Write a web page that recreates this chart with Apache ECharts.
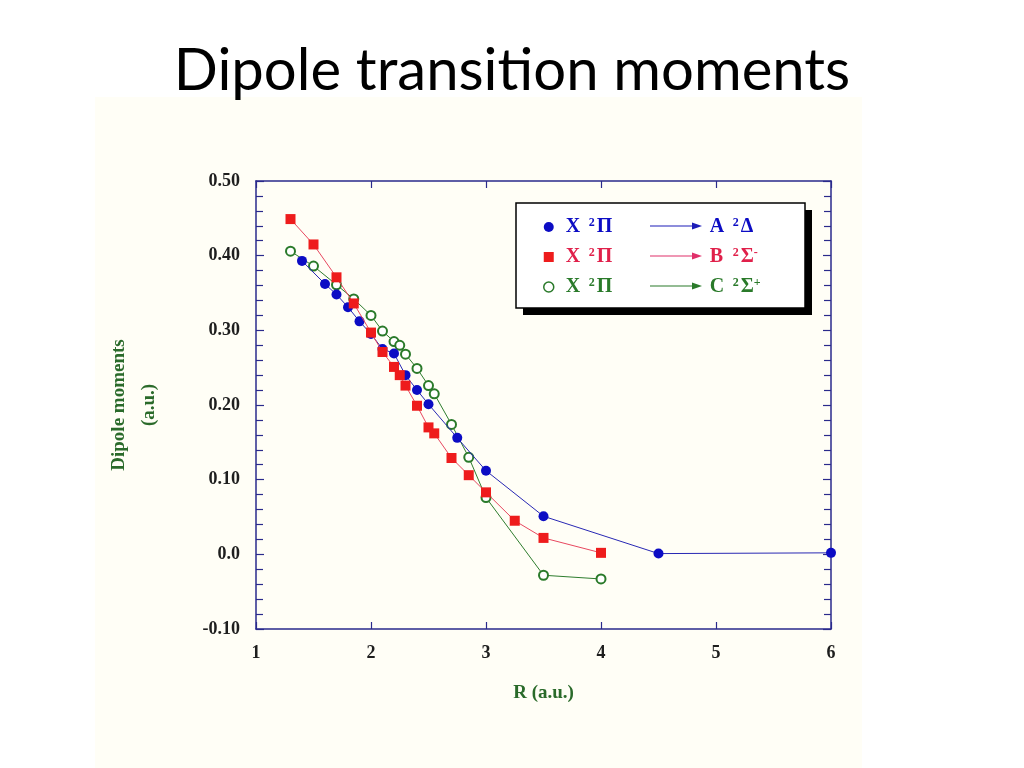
<!DOCTYPE html>
<html>
<head>
<meta charset="utf-8">
<script src="https://cdn.jsdelivr.net/npm/echarts@6/dist/echarts.min.js"></script>
<style>
html,body{margin:0;padding:0;background:#ffffff;}
#chart{width:1024px;height:768px;}
</style>
</head>
<body>
<div id="chart"></div>
<script>
// ---- data ----
const titleText = 'Dipole transition moments';
const xAxisName = 'R (a.u.)';
const yAxisName = 'Dipole moments\n(a.u.)';
const xTicks = [1, 2, 3, 4, 5, 6];
const yTicks = [-0.10, 0.0, 0.10, 0.20, 0.30, 0.40, 0.50];

// X 2Π -> A 2Δ
const rA = [1.4, 1.6, 1.7, 1.8, 1.9, 2.0, 2.1, 2.2, 2.3, 2.4, 2.5, 2.75, 3.0, 3.5, 4.5, 6.0];
const dA = [0.393, 0.362, 0.348, 0.331, 0.312, 0.295, 0.275, 0.269, 0.240, 0.220, 0.201, 0.156, 0.112, 0.051, 0.001, 0.002];
// X 2Π -> B 2Σ-
const rB = [1.3, 1.5, 1.7, 1.85, 2.0, 2.1, 2.2, 2.25, 2.3, 2.4, 2.5, 2.55, 2.7, 2.85, 3.0, 3.25, 3.5, 4.0];
const dB = [0.449, 0.415, 0.371, 0.336, 0.297, 0.271, 0.251, 0.240, 0.226, 0.199, 0.170, 0.162, 0.129, 0.106, 0.083, 0.045, 0.022, 0.002];
// X 2Π -> C 2Σ+
const rC = [1.3, 1.5, 1.7, 1.85, 2.0, 2.1, 2.2, 2.25, 2.3, 2.4, 2.5, 2.55, 2.7, 2.85, 3.0, 3.5, 4.0];
const dC = [0.406, 0.386, 0.361, 0.342, 0.320, 0.299, 0.285, 0.280, 0.268, 0.249, 0.226, 0.215, 0.174, 0.130, 0.076, -0.028, -0.033];

const seriesNames = ['A', 'B', 'C'];
const upperState = ['A', 'B', 'C'];
const upperSym = ['Δ', 'Σ', 'Σ'];
const upperSign = ['', '-', '+'];

// ---- styling ----
const serif = '"Liberation Serif", "Times New Roman", serif';
const axisColor = '#2a2a8c';
const colA = '#0c0cc4', lineA = '#2828b4';
const colB = '#ee1c1c', lineB = '#e84860';
const colC = '#2a7a2a', lineC = '#2e7d2e';
const arrowCols = ['#1c1cb8', '#e0306a', '#2a7a2a'];
const textCols = [colA, '#e0204a', colC];

function pairs(xs, ys) { return xs.map((x, i) => [x, ys[i]]); }

const rich = {};
['a', 'b', 'c'].forEach((k, i) => {
  const c = textCols[i];
  rich['p' + k] = {color: c, fontFamily: serif, fontWeight: 'bold', fontSize: 20, lineHeight: 20, width: 7};
  rich['x' + k] = {color: c, fontFamily: serif, fontWeight: 'bold', fontSize: 20, lineHeight: 20, width: 23};
  rich['s' + k] = {color: c, fontFamily: serif, fontWeight: 'bold', fontSize: 12, lineHeight: 12, verticalAlign: 'top', width: 8};
  rich['g' + k] = {color: c, fontFamily: serif, fontSize: 18, lineHeight: 20, width: 90};
  rich['u' + k] = {color: c, fontFamily: serif, fontWeight: 'bold', fontSize: 20, lineHeight: 20};
});

function legendLabel(name) {
  const i = seriesNames.indexOf(name);
  const k = ['a', 'b', 'c'][i];
  let s = '{p' + k + '| }{x' + k + '|X}{s' + k + '|2}{x' + k + '|Π}{g' + k + '| }';
  s += '{x' + k + '|' + upperState[i] + '}{s' + k + '|2}{u' + k + '|' + upperSym[i] + '}';
  if (upperSign[i]) s += '{s' + k + '|' + upperSign[i] + '}';
  return s;
}

const arrowRows = [226, 256, 286];
const graphics = [
  {type: 'rect', left: 95, top: 97, shape: {width: 767, height: 671}, style: {fill: '#fffef6'}, z: -10, silent: true},
  {type: 'rect', shape: {x: 523, y: 210, width: 289, height: 105}, style: {fill: '#000'}, z: 5, silent: true},
  {type: 'rect', shape: {x: 516, y: 203, width: 289, height: 105},
   style: {fill: '#ffffff', stroke: '#000', lineWidth: 1.5}, z: 5, z2: 1, silent: true}
];
arrowRows.forEach((y, i) => {
  graphics.push({type: 'line', shape: {x1: 650, y1: y, x2: 694, y2: y}, style: {stroke: arrowCols[i], lineWidth: 1.2}, z: 6, silent: true});
  graphics.push({type: 'polygon', shape: {points: [[692, y - 3.5], [702, y], [692, y + 3.5]]}, style: {fill: arrowCols[i]}, z: 6, silent: true});
});

const tickLabelStyle = {fontFamily: serif, fontWeight: 'bold', fontSize: 18, color: '#1e1e1e'};

const option = {
  animation: false,
  backgroundColor: 'transparent',
  title: {
    text: titleText, left: 'center', top: 37,
    textStyle: {fontFamily: 'Lato, "Open Sans", sans-serif', fontWeight: 'normal', fontSize: 58, color: '#000'}
  },
  grid: {left: 256, right: 193, top: 181, bottom: 139, containLabel: false},
  xAxis: [{
    type: 'value', min: xTicks[0], max: xTicks[xTicks.length - 1], interval: 1, position: 'bottom',
    name: xAxisName, nameLocation: 'middle', nameGap: 55,
    nameTextStyle: {fontFamily: serif, fontWeight: 'bold', fontSize: 19, color: '#2a6a2a'},
    axisLine: {show: true, onZero: false, lineStyle: {color: axisColor, width: 1.5}},
    axisTick: {show: true, inside: true, length: 7, lineStyle: {color: axisColor, width: 1.2}},
    axisLabel: Object.assign({margin: 15}, tickLabelStyle),
    splitLine: {show: false}
  }, {
    type: 'value', min: xTicks[0], max: xTicks[xTicks.length - 1], interval: 1, position: 'top',
    axisLine: {show: true, onZero: false, lineStyle: {color: axisColor, width: 1.5}},
    axisTick: {show: true, inside: true, length: 7, lineStyle: {color: axisColor, width: 1.2}},
    axisLabel: {show: false}, splitLine: {show: false}
  }],
  yAxis: [{
    type: 'value', min: yTicks[0], max: yTicks[yTicks.length - 1], interval: 0.1, position: 'left',
    name: yAxisName, nameLocation: 'middle', nameGap: 92, nameRotate: 90,
    nameTextStyle: {fontFamily: serif, fontWeight: 'bold', fontSize: 19, color: '#2a6a2a', lineHeight: 30},
    axisLine: {show: true, onZero: false, lineStyle: {color: axisColor, width: 1.5}},
    axisTick: {show: true, inside: true, length: 8, lineStyle: {color: axisColor, width: 1.2}},
    minorTick: {show: true, splitNumber: 5, length: 7, lineStyle: {color: axisColor, width: 1.2}},
    axisLabel: Object.assign({margin: 16, formatter: function (v) {
      const r = Math.round(v * 100) / 100;
      if (r === 0) return '0.0';
      return r.toFixed(2);
    }}, tickLabelStyle),
    splitLine: {show: false}
  }, {
    type: 'value', min: yTicks[0], max: yTicks[yTicks.length - 1], interval: 0.1, position: 'right',
    axisLine: {show: true, onZero: false, lineStyle: {color: axisColor, width: 1.5}},
    axisTick: {show: true, inside: true, length: 8, lineStyle: {color: axisColor, width: 1.2}},
    minorTick: {show: true, splitNumber: 5, length: 7, lineStyle: {color: axisColor, width: 1.2}},
    axisLabel: {show: false}, splitLine: {show: false}
  }],
  legend: {
    orient: 'vertical', left: 538, top: 212, itemWidth: 10, itemHeight: 10, itemGap: 10, z: 10,
    selectedMode: false,
    data: [
      {name: 'A', icon: 'circle', itemStyle: {color: colA, borderWidth: 0}},
      {name: 'B', icon: 'rect', itemStyle: {color: colB, borderWidth: 0}},
      {name: 'C', icon: 'circle', itemStyle: {color: '#ffffff', borderColor: colC, borderWidth: 1.5}}
    ],
    formatter: legendLabel,
    textStyle: {fontFamily: serif, fontWeight: 'bold', fontSize: 20, rich: rich}
  },
  graphic: graphics,
  series: [
    {name: 'C', type: 'line', data: pairs(rC, dC), symbol: 'emptyCircle', symbolSize: 9, z: 2,
     lineStyle: {color: lineC, width: 1}, itemStyle: {color: colC, borderColor: colC, borderWidth: 1.5}},
    {name: 'A', type: 'line', data: pairs(rA, dA), symbol: 'circle', symbolSize: 10, z: 3,
     lineStyle: {color: lineA, width: 1}, itemStyle: {color: colA}},
    {name: 'B', type: 'line', data: pairs(rB, dB), symbol: 'rect', symbolSize: 10, z: 4,
     lineStyle: {color: lineB, width: 1}, itemStyle: {color: colB}}
  ]
};

const chart = echarts.init(document.getElementById('chart'), null, {renderer: 'canvas'});
chart.setOption(option);
</script>
</body>
</html>
